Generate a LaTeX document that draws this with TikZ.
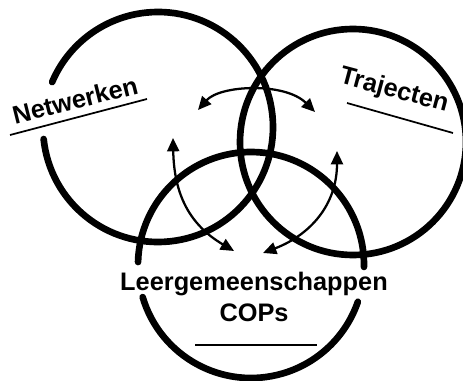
\documentclass[tikz,border=0pt]{standalone}
\usepackage{fontspec}
\setmainfont{Liberation Sans}
\usetikzlibrary{arrows.meta}

\tikzset{every picture/.style={line width=0.75pt}}
\tikzset{
  ring/.style={line width=5pt, line cap=round},
  twoway/.style={line width=1.7pt, {Triangle[length=10pt,width=9pt]}-{Triangle[length=10pt,width=9pt]}},
  underline/.style={line width=1.3pt},
  label/.style={inner sep=0.75pt, font=\fontsize{19}{23.5}\selectfont\bfseries}
}

\begin{document}
\begin{tikzpicture}[x=0.75pt,y=0.75pt,yscale=-1,xscale=1]
\path[use as bounding box] (0,0) rectangle (463,381);

%Shape: Circle [left, Netwerken]
\draw [ring] (158,127) ++(-186:115) arc [start angle=-186, end angle=-517, radius=115] ;
%Shape: Circle [right, Trajecten]
\draw [ring] (353,142) circle [radius=113] ;
%Shape: Circle [bottom, COPs]
\draw [ring] (251,265) ++(1:113) arc [start angle=1, end angle=-178.5, radius=113] ;
\draw [ring] (251,265) ++(163.5:113) arc [start angle=163.5, end angle=19, radius=113] ;

%Straight Lines [underlines]
\draw [underline] (10,135) -- (147,99) ;
\draw [underline] (347,103) -- (453,133) ;
\draw [underline] (195,345) -- (317,345) ;

% arrow ends
\coordinate (topL) at (198,110);
\coordinate (topR) at (315,112);
\coordinate (lftU) at (173,138);
\coordinate (lftD) at (234,251);
\coordinate (rgtU) at (337,151);
\coordinate (rgtD) at (263,253);

%Curve Lines
\draw [twoway] (topL) .. controls (220,85) and (285,82) .. (topR) ;
%Curve Lines
\draw [twoway] (lftU) .. controls (174,195) and (190,225) .. (lftD) ;
%Curve Lines
\draw [twoway] (rgtU) .. controls (337,205) and (310,235) .. (rgtD) ;

% Text Node
\node [label, rotate=14] (netw) at (75,100) {Netwerken};
% Text Node
\node [label, rotate=-15] (traj) at (394,91) {Trajecten};
% Text Node
\node [label, align=center] (leer) at (254,297) {Leergemeenschappen\\COPs};

\end{tikzpicture}
\end{document}
